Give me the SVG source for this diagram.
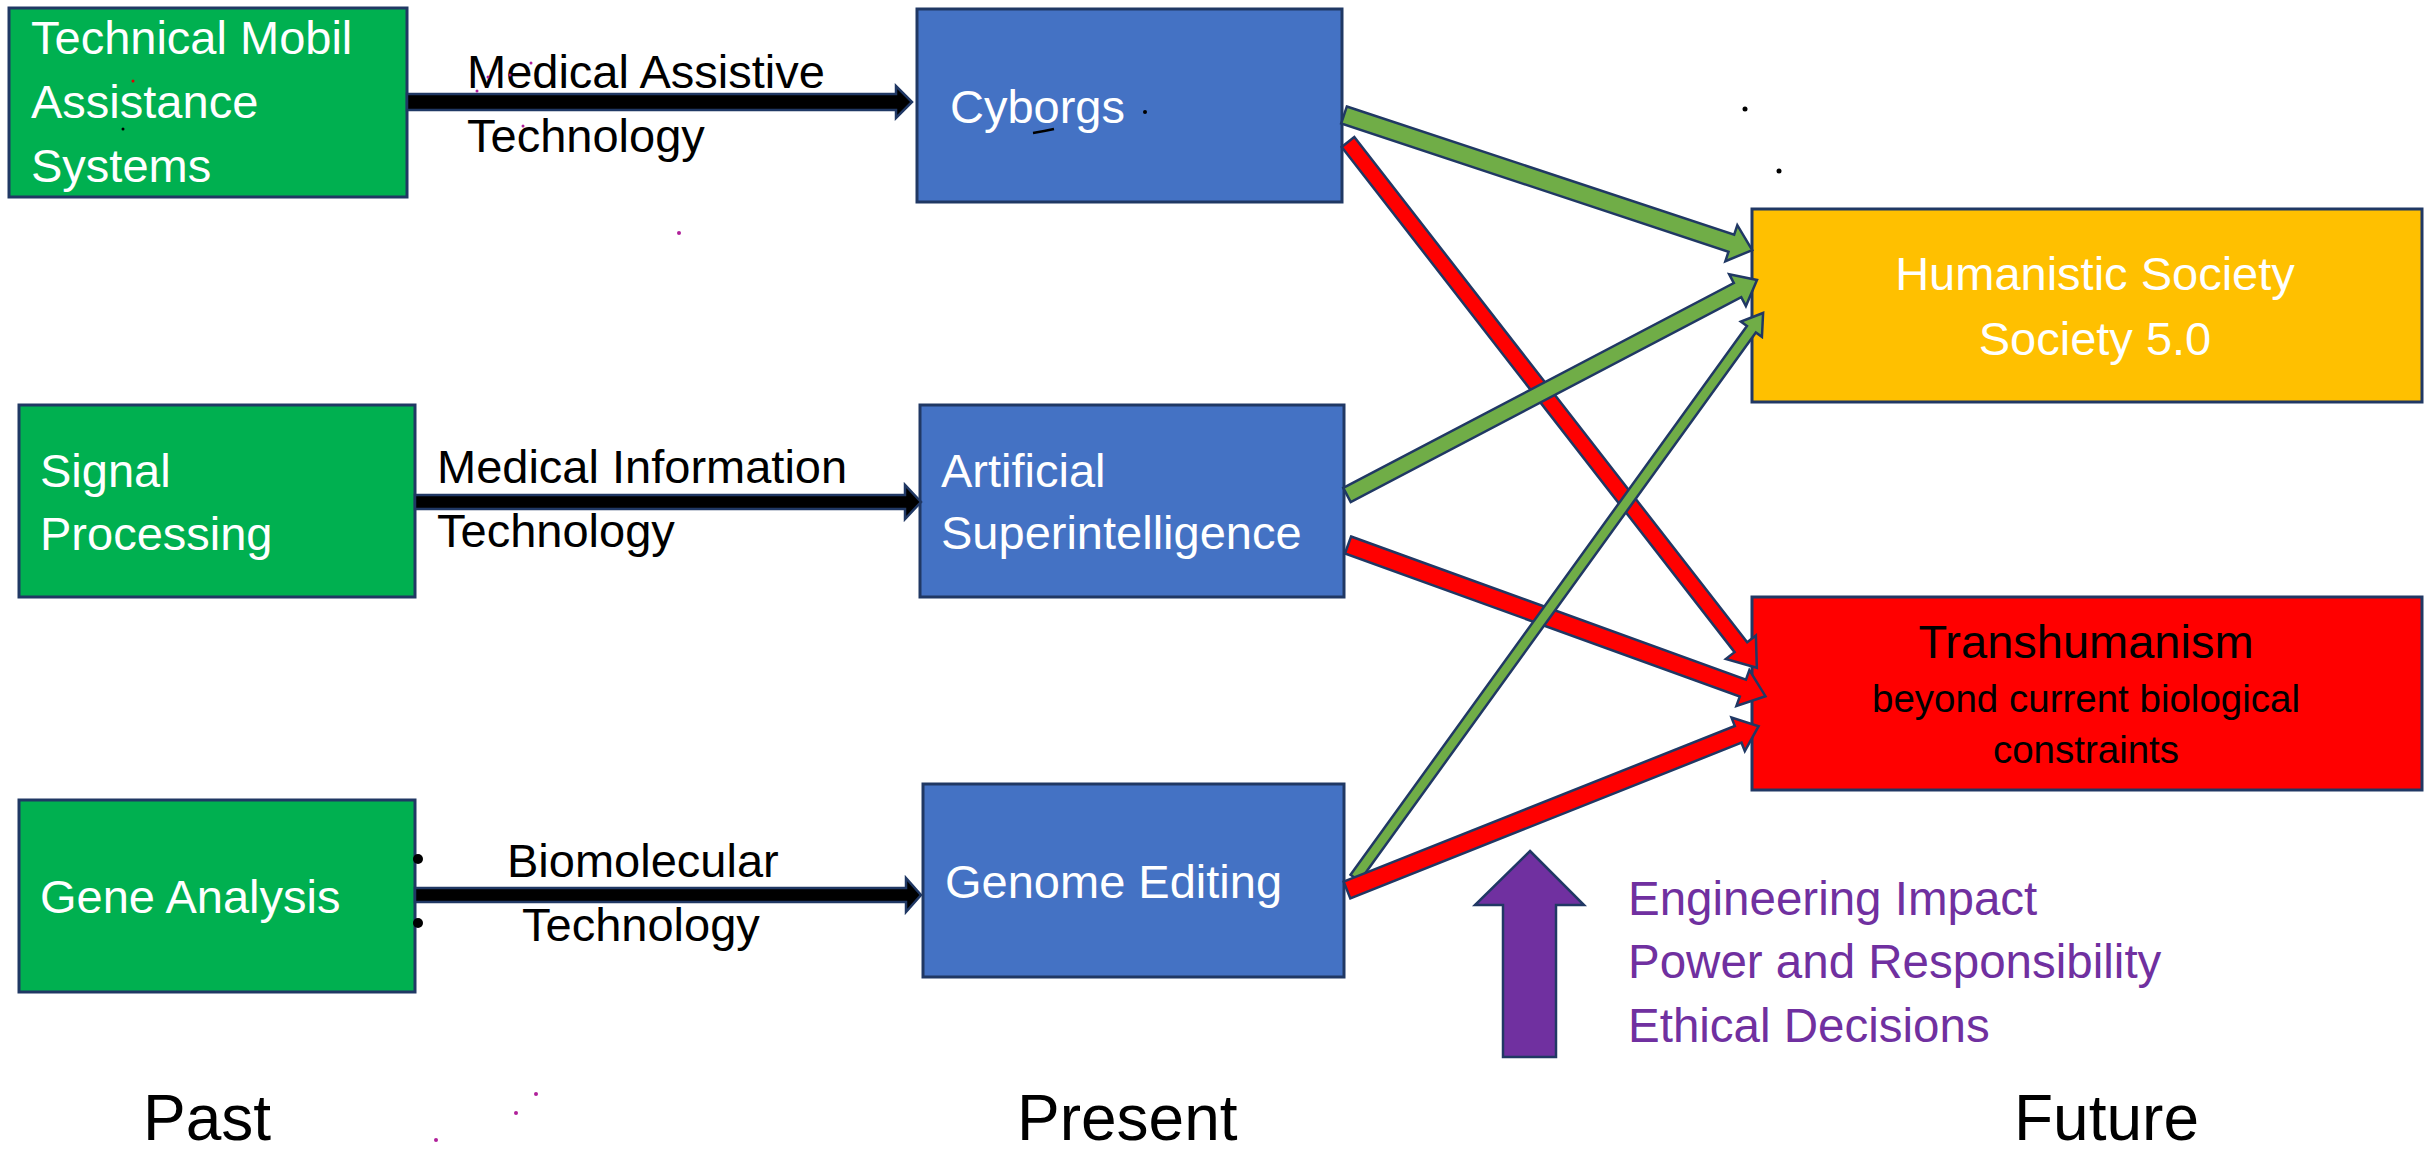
<svg xmlns="http://www.w3.org/2000/svg" width="2435" height="1156" viewBox="0 0 2435 1156">
<style>
  text { font-family: "Liberation Sans", Arial, sans-serif; }
  .box { stroke: #203864; stroke-width: 3; }
  .green { fill: #00B050; }
  .blue { fill: #4472C4; }
  .yellow { fill: #FFC000; }
  .redbox { fill: #FF0000; }
  .wt { fill: #FFFFFF; font-size: 47px; }
  .bt { fill: #000000; font-size: 47px; }
  .pt { fill: #7030A0; font-size: 47.5px; }
  .era { fill: #000000; font-size: 64px; }
  .blk { fill: #000000; stroke: #203864; stroke-width: 2.5; }
  .garr { fill: #70AD47; stroke: #203864; stroke-width: 2.5; }
  .rarr { fill: #FF0000; stroke: #203864; stroke-width: 2.5; }
  .dotp { fill: #B0209A; }
</style>

<g id="node-technical-mobil">
  <rect class="box green" x="9" y="8" width="398" height="189"/>
  <text class="wt" x="31" y="54">Technical Mobil</text>
  <text class="wt" x="31" y="118">Assistance</text>
  <text class="wt" x="31" y="182">Systems</text>
</g>
<g id="node-signal-processing">
  <rect class="box green" x="19" y="405" width="396" height="192"/>
  <text class="wt" x="40" y="487">Signal</text>
  <text class="wt" x="40" y="550">Processing</text>
</g>
<g id="node-gene-analysis">
  <rect class="box green" x="19" y="800" width="396" height="192"/>
  <text class="wt" x="40" y="913">Gene Analysis</text>
</g>

<g id="node-cyborgs">
  <rect class="box blue" x="917" y="9" width="425" height="193"/>
  <text class="wt" x="950" y="123">Cyborgs</text>
  <path d="M1033,133 Q1045,131 1054,129" fill="none" stroke="#000" stroke-width="2.5"/>
  <circle cx="1145" cy="112" r="2" fill="#000"/>
</g>
<g id="node-artificial-superintelligence">
  <rect class="box blue" x="920" y="405" width="424" height="192"/>
  <text class="wt" x="941" y="487">Artificial</text>
  <text class="wt" x="941" y="549">Superintelligence</text>
</g>
<g id="node-genome-editing">
  <rect class="box blue" x="923" y="784" width="421" height="193"/>
  <text class="wt" x="945" y="898">Genome Editing</text>
</g>

<g id="node-humanistic-society">
  <rect class="box yellow" x="1752" y="209" width="670" height="193"/>
  <text class="wt" x="2095" y="290" text-anchor="middle">Humanistic Society</text>
  <text class="wt" x="2095" y="355" text-anchor="middle">Society 5.0</text>
</g>
<g id="node-transhumanism">
  <rect class="box redbox" x="1752" y="597" width="670" height="193"/>
  <text class="bt" x="2086" y="658" text-anchor="middle">Transhumanism</text>
  <text class="bt" x="2086" y="712" text-anchor="middle" style="font-size:38.5px">beyond current biological</text>
  <text class="bt" x="2086" y="763" text-anchor="middle" style="font-size:38.5px">constraints</text>
</g>

<g id="connectors">
  <path class="blk" d="M407,94 L896,94 L896,86 L912,102 L896,118 L896,110 L407,110 Z"/>
  <path class="blk" d="M415,495 L905,495 L905,485 L921,502 L905,519 L905,509 L415,509 Z"/>
  <path class="blk" d="M415,888 L906,888 L906,878 L921,895 L906,912 L906,902 L415,902 Z"/>

  <path class="garr" transform="translate(1344,115) rotate(18.31)" d="M0,-9 L408,-9 L408,-19 L430,0 L408,19 L408,9 L0,9 Z"/>
  <path class="rarr" transform="translate(1348,142) rotate(52.13)" d="M0,-8 L640,-8 L640,-19 L666,0 L640,19 L640,8 L0,8 Z"/>
  <path class="garr" transform="translate(1347,495) rotate(-27.68)" d="M0,-8 L441,-8 L441,-18 L463,0 L441,18 L441,8 L0,8 Z"/>
  <path class="rarr" transform="translate(1348,545) rotate(19.91)" d="M0,-9 L420,-9 L420,-19 L444,0 L420,19 L420,9 L0,9 Z"/>
  <path class="garr" transform="translate(1355,878) rotate(-54.16)" d="M0,-5.5 L677,-5.5 L677,-13 L697,0 L677,13 L677,5.5 L0,5.5 Z"/>
  <path class="rarr" transform="translate(1347,890) rotate(-21.70)" d="M0,-9 L421,-9 L421,-18 L443,0 L421,18 L421,9 L0,9 Z"/>

  <text class="bt" x="467" y="88">Medical Assistive</text>
  <text class="bt" x="467" y="152">Technology</text>
  <text class="bt" x="437" y="483">Medical Information</text>
  <text class="bt" x="437" y="547">Technology</text>
  <text class="bt" x="507" y="877">Biomolecular</text>
  <text class="bt" x="522" y="941">Technology</text>
</g>

<g id="impact">
  <path fill="#7030A0" stroke="#203864" stroke-width="2.5" d="M1530,851 L1584,905 L1556,905 L1556,1057 L1503,1057 L1503,905 L1475,905 Z"/>
  <text class="pt" x="1628" y="915">Engineering Impact</text>
  <text class="pt" x="1628" y="978">Power and Responsibility</text>
  <text class="pt" x="1628" y="1042">Ethical Decisions</text>
</g>

<g id="eras">
  <text class="era" x="143" y="1140">Past</text>
  <text class="era" x="1017" y="1140">Present</text>
  <text class="era" x="2014" y="1140">Future</text>
</g>

<g id="marks">
  <circle cx="418" cy="859" r="5" fill="#000"/>
  <circle cx="418" cy="923" r="5" fill="#000"/>
  <circle cx="1745" cy="109" r="2.5" fill="#000"/>
  <circle cx="1779" cy="171" r="2.5" fill="#000"/>
  <circle cx="123" cy="129" r="1.5" fill="#000"/>
  <circle cx="133" cy="81" r="1.5" fill="#E00000"/>
  <circle class="dotp" cx="679" cy="233" r="2"/>
  <circle class="dotp" cx="536" cy="1094" r="2"/>
  <circle class="dotp" cx="516" cy="1113" r="2"/>
  <circle class="dotp" cx="436" cy="1140" r="2"/>
  <circle class="dotp" cx="488" cy="77" r="1.5"/>
  <circle class="dotp" cx="510" cy="75" r="1.5"/>
  <circle class="dotp" cx="531" cy="63" r="1.5"/>
  <circle class="dotp" cx="477" cy="91" r="1.5"/>
  <circle class="dotp" cx="523" cy="126" r="1.5"/>
</g>
</svg>
